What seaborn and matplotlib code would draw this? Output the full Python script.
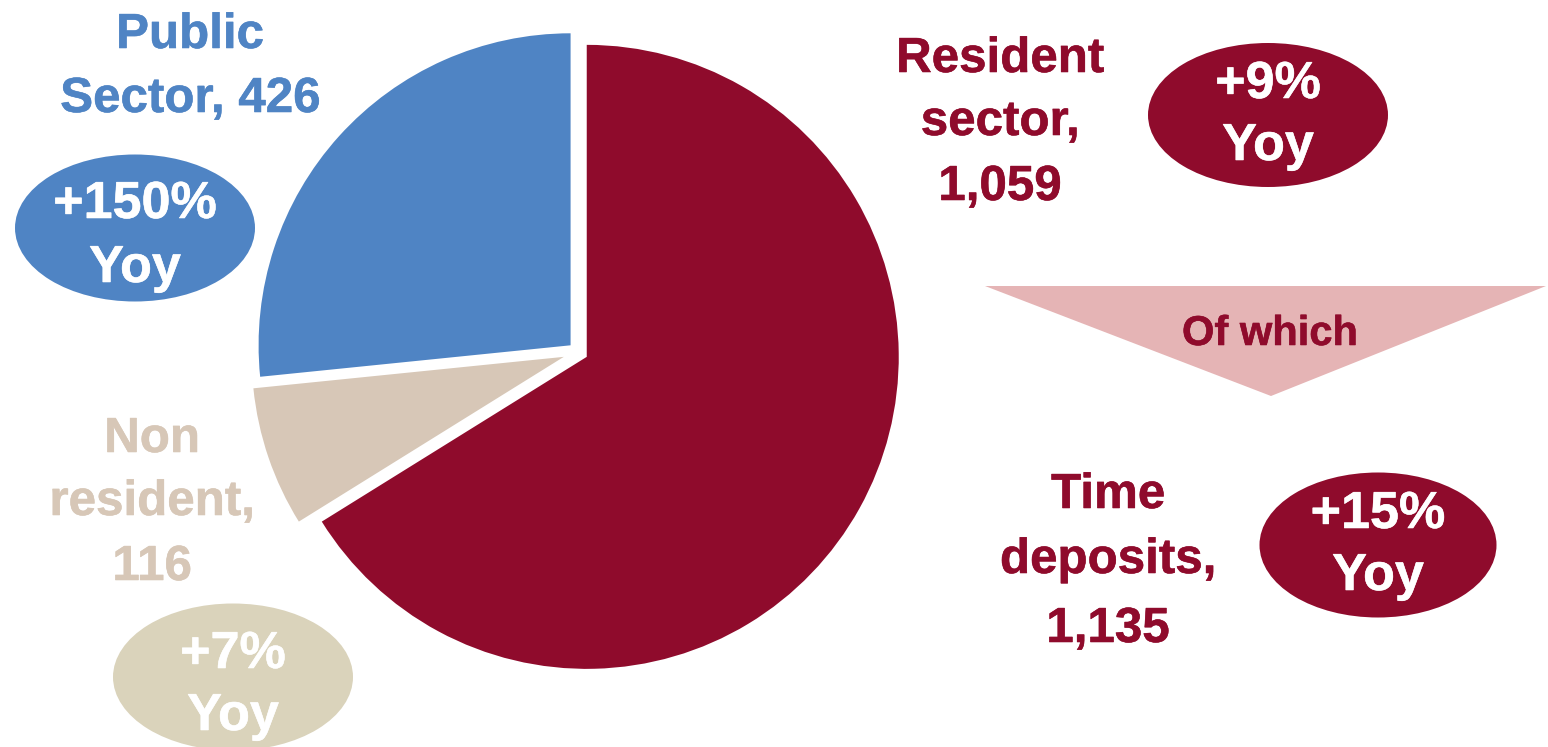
import matplotlib
matplotlib.use("Agg")
import matplotlib.pyplot as plt
from matplotlib.patches import Ellipse, Polygon
import matplotlib.patheffects as pe
import seaborn as sns

# Deposit breakdown (in millions) and year-on-year growth
segments = ["Resident sector", "Non resident", "Public Sector"]
values = [1059, 116, 426]
yoy = ["+9%", "+7%", "+150%"]
sub_label = "Time deposits"
sub_value = 1135
sub_yoy = "+15%"

RED = "#8F0B2C"
BLUE = "#4F84C4"
BEIGE = "#D7C7B7"
SAND = "#DAD3BB"
PINK = "#E5B4B5"

sns.set_theme(style="white")
plt.rcParams["font.family"] = ["Liberation Sans", "DejaVu Sans"]

W, H = 1548, 747
fig = plt.figure(figsize=(W / 100, H / 100), dpi=100)
ax = fig.add_axes([0, 0, 1, 1])


def Y(y):
    return H - y


# explode is given in data units (pixels here)
ax.pie(values, colors=[RED, BEIGE, BLUE], startangle=90, counterclock=False,
       center=(578, Y(352)), radius=312, explode=[10, 15, 10],
       wedgeprops=dict(linewidth=0), frame=True)
ax.set_xlim(0, W)
ax.set_ylim(0, H)
ax.set_aspect("equal")
ax.axis("off")


def lines(x, ys, texts, color, size):
    for y, t in zip(ys, texts):
        ax.text(x, Y(y), t, ha="center", va="baseline", color=color,
                fontsize=size, fontweight="bold",
                path_effects=[pe.withStroke(linewidth=0.4, foreground=color)])


def bubble(cx, cy, w, h, color, text, ys):
    ax.add_patch(Ellipse((cx, Y(cy)), w, h, facecolor=color, edgecolor="none"))
    lines(cx, ys, [text, "Yoy"], "white", 37.5)


LBL = 35.5
fmt = lambda v: f"{v:,}"

# Public sector
lines(190, [48, 112], ["Public", f"Sector, {fmt(values[2])}"], BLUE, LBL)
bubble(135, 228, 240, 147, BLUE, yoy[2], [218, 282])

# Resident sector
lines(1000, [72, 135, 200], ["Resident", "sector,", fmt(values[0])], RED, LBL)
bubble(1268, 115, 240, 144, RED, yoy[0], [98, 160])

# Non resident
lines(152, [452, 515, 580], ["Non", "resident,", fmt(values[1])], BEIGE, LBL)
bubble(233, 677, 240, 147, SAND, yoy[1], [668, 730])

# "Of which" arrow
ax.add_patch(Polygon([(985, Y(286)), (1546, Y(286)), (1271, Y(396))],
                     closed=True, facecolor=PINK, edgecolor="none"))
ax.text(1270, Y(345), "Of which", ha="center", va="baseline", color=RED,
        fontsize=30, fontweight="bold",
        path_effects=[pe.withStroke(linewidth=0.4, foreground=RED)])

# Time deposits
lines(1108, [508, 573, 642], ["Time", "deposits,", fmt(sub_value)], RED, LBL)
bubble(1378, 545, 237, 145, RED, sub_yoy, [528, 590])

fig.savefig("out.png", dpi=100, facecolor="white")
